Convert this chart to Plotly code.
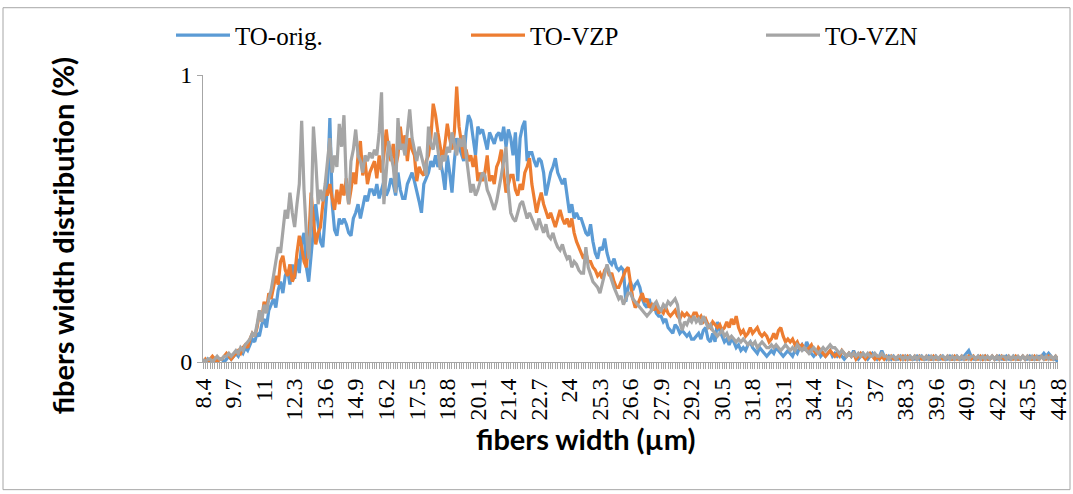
import plotly.graph_objects as go

# fibre width categories (µm), 8.4 .. 44.8 step 0.1
widths = [round(8.4 + 0.1 * i, 1) for i in range(365)]

tick_labels = ["8.4", "9.7", "11", "12.3", "13.6", "14.9", "16.2", "17.5", "18.8", "20.1",
               "21.4", "22.7", "24", "25.3", "26.6", "27.9", "29.2", "30.5", "31.8", "33.1",
               "34.4", "35.7", "37", "38.3", "39.6", "40.9", "42.2", "43.5", "44.8"]
tick_values = [8.4, 9.7, 11.0, 12.3, 13.6, 14.9, 16.2, 17.5, 18.8, 20.1,
               21.4, 22.7, 24.0, 25.3, 26.6, 27.9, 29.2, 30.5, 31.8, 33.1,
               34.4, 35.7, 37.0, 38.3, 39.6, 40.9, 42.2, 43.5, 44.8]

to_orig = [
    0, 0, 0.01, 0, 0, 0.01, 0, 0.01, 0.01, 0,
    0.01, 0.02, 0.01, 0.02, 0.03, 0.02, 0.04, 0.03, 0.05, 0.04,
    0.06, 0.08, 0.07, 0.1, 0.09, 0.13, 0.15, 0.12, 0.18, 0.2,
    0.22, 0.19, 0.25, 0.28, 0.24, 0.3, 0.32, 0.27, 0.34, 0.29,
    0.36, 0.31, 0.42, 0.45, 0.33, 0.28, 0.38, 0.46, 0.55, 0.48,
    0.42, 0.4, 0.5, 0.62, 0.85, 0.55, 0.46, 0.44, 0.5, 0.48,
    0.5, 0.48, 0.45, 0.44, 0.5, 0.52, 0.55, 0.5, 0.54, 0.58,
    0.56, 0.6, 0.6, 0.58, 0.62, 0.57, 0.6, 0.63, 0.58, 0.6,
    0.64, 0.62, 0.58, 0.66, 0.6, 0.57, 0.57, 0.62, 0.64, 0.66,
    0.63, 0.6, 0.56, 0.52, 0.62, 0.64, 0.66, 0.7, 0.68, 0.72,
    0.68, 0.7, 0.66, 0.6, 0.72, 0.66, 0.59, 0.7, 0.78, 0.75,
    0.72, 0.7, 0.8, 0.86, 0.84, 0.78, 0.72, 0.82, 0.8, 0.81,
    0.78, 0.74, 0.8, 0.78, 0.76, 0.79, 0.8, 0.77, 0.82, 0.75,
    0.81, 0.78, 0.72, 0.8, 0.63, 0.78, 0.82, 0.84, 0.7, 0.73,
    0.73, 0.7, 0.68, 0.71, 0.7, 0.66, 0.58, 0.62, 0.66, 0.68,
    0.71, 0.66, 0.64, 0.62, 0.64, 0.58, 0.52, 0.55, 0.5, 0.52,
    0.5, 0.5, 0.47, 0.45, 0.44, 0.48, 0.42, 0.38, 0.36, 0.4,
    0.39, 0.43, 0.38, 0.35, 0.34, 0.36, 0.33, 0.32, 0.33, 0.32,
    0.21, 0.26, 0.28, 0.25, 0.27, 0.28, 0.26, 0.22, 0.2, 0.19,
    0.22, 0.18, 0.2, 0.17, 0.16, 0.16, 0.14, 0.15, 0.12, 0.11,
    0.1, 0.13, 0.12, 0.1, 0.11, 0.1, 0.09, 0.1, 0.08, 0.08,
    0.09, 0.1, 0.08, 0.11, 0.12, 0.08, 0.07, 0.1, 0.07, 0.14,
    0.11, 0.09, 0.07, 0.08, 0.06, 0.08, 0.07, 0.05, 0.06, 0.04,
    0.05, 0.04, 0.06, 0.07, 0.05, 0.04, 0.03, 0.05, 0.04, 0.03,
    0.02, 0.03, 0.04, 0.03, 0.05, 0.04, 0.03, 0.02, 0.03, 0.04,
    0.03, 0.02, 0.04, 0.03, 0.05, 0.06, 0.04, 0.07, 0.05, 0.03,
    0.02, 0.03, 0.04, 0.02, 0.03, 0.02, 0.03, 0.04, 0.02, 0.03,
    0.02, 0.03, 0.02, 0.01, 0.02, 0.03, 0.02, 0.04, 0.02, 0.01,
    0.02, 0.03, 0.02, 0.01, 0.02, 0.03, 0.02, 0.01, 0.02, 0.04,
    0.02, 0.01, 0.02, 0.01, 0.02, 0.01, 0.01, 0.02, 0.01, 0.02,
    0.01, 0.02, 0.01, 0.01, 0.02, 0.01, 0.02, 0.01, 0.01, 0.02,
    0.01, 0.01, 0.02, 0.01, 0.01, 0.02, 0.01, 0.01, 0.02, 0.01,
    0.01, 0.02, 0.01, 0.01, 0.02, 0.03, 0.04, 0.02, 0.01, 0.01,
    0.02, 0.01, 0.01, 0.02, 0.01, 0.01, 0.02, 0.01, 0.01, 0.02,
    0.01, 0.01, 0.02, 0.01, 0.01, 0.02, 0.01, 0.01, 0.01, 0.02,
    0.01, 0.01, 0.02, 0.01, 0.01, 0.01, 0.02, 0.02, 0.03, 0.02,
    0.03, 0.02, 0.01, 0.01, 0.0,
]

to_vzp = [
    0, 0.01, 0, 0.01, 0.02, 0.01, 0, 0.01, 0.01, 0.02,
    0.03, 0.02, 0.01, 0.02, 0.03, 0.04, 0.03, 0.05, 0.06, 0.05,
    0.08, 0.1, 0.09, 0.12, 0.17, 0.15, 0.21, 0.18, 0.24, 0.22,
    0.26, 0.3, 0.27, 0.35, 0.37, 0.32, 0.3, 0.34, 0.28, 0.3,
    0.38, 0.44, 0.4, 0.35, 0.33, 0.42, 0.59, 0.5, 0.41, 0.45,
    0.47, 0.55, 0.6, 0.58, 0.62, 0.57, 0.53, 0.6, 0.55, 0.62,
    0.58, 0.64, 0.55, 0.6, 0.66, 0.62, 0.72, 0.77, 0.65, 0.7,
    0.62, 0.66, 0.68, 0.7, 0.64, 0.72, 0.66, 0.72, 0.81, 0.74,
    0.7, 0.76, 0.68, 0.72, 0.82, 0.75, 0.79, 0.7, 0.78, 0.74,
    0.72, 0.63, 0.68, 0.66, 0.65, 0.7, 0.72, 0.78, 0.9, 0.86,
    0.8, 0.74, 0.7, 0.76, 0.83, 0.78, 0.74, 0.8, 0.96, 0.82,
    0.76, 0.71, 0.74, 0.7, 0.72, 0.68, 0.72, 0.63, 0.66, 0.63,
    0.66, 0.72, 0.63, 0.65, 0.62, 0.68, 0.7, 0.74, 0.66, 0.59,
    0.62, 0.65, 0.65, 0.6, 0.58, 0.62, 0.6, 0.66, 0.68, 0.71,
    0.62, 0.56, 0.52, 0.56, 0.59, 0.55, 0.52, 0.5, 0.52, 0.49,
    0.47, 0.5, 0.53, 0.5, 0.48, 0.5, 0.47, 0.5, 0.45, 0.42,
    0.4, 0.38, 0.36, 0.38, 0.35, 0.35, 0.33, 0.32, 0.3, 0.31,
    0.29, 0.32, 0.33, 0.3, 0.31, 0.28, 0.26, 0.26, 0.28, 0.3,
    0.32, 0.33, 0.28, 0.22, 0.19, 0.2, 0.22, 0.24, 0.21, 0.22,
    0.19, 0.2, 0.18, 0.2, 0.17, 0.18, 0.17, 0.19, 0.17, 0.16,
    0.17, 0.18, 0.16, 0.15, 0.17, 0.16, 0.17, 0.16, 0.15, 0.17,
    0.17, 0.15, 0.16, 0.14, 0.15, 0.13, 0.12, 0.14, 0.13, 0.12,
    0.13, 0.11, 0.12, 0.14, 0.12, 0.15, 0.13, 0.16, 0.12, 0.1,
    0.11, 0.09, 0.1, 0.12, 0.1, 0.11, 0.12, 0.1, 0.09, 0.1,
    0.09, 0.07, 0.08, 0.1, 0.08, 0.11, 0.12, 0.09, 0.07, 0.08,
    0.07, 0.08, 0.06, 0.07, 0.05, 0.06, 0.05, 0.04, 0.05, 0.06,
    0.04, 0.03, 0.05, 0.04, 0.03, 0.02, 0.03, 0.04, 0.03, 0.02,
    0.03, 0.02, 0.04, 0.03, 0.02, 0.03, 0.02, 0.03, 0.01, 0.02,
    0.03, 0.02, 0.01, 0.02, 0.03, 0.02, 0.01, 0.02, 0.01, 0.02,
    0.01, 0.02, 0.01, 0.02, 0.01, 0.01, 0.02, 0.01, 0.02, 0.01,
    0.02, 0.01, 0.01, 0.02, 0.01, 0.02, 0.01, 0.01, 0.02, 0.01,
    0.01, 0.02, 0.01, 0.01, 0.02, 0.01, 0.01, 0.02, 0.01, 0.01,
    0.02, 0.01, 0.01, 0.02, 0.01, 0.01, 0.02, 0.01, 0.02, 0.01,
    0.01, 0.02, 0.01, 0.02, 0.01, 0.01, 0.02, 0.01, 0.02, 0.01,
    0.02, 0.01, 0.01, 0.02, 0.01, 0.01, 0.02, 0.01, 0.01, 0.02,
    0.01, 0.02, 0.01, 0.01, 0.02, 0.01, 0.01, 0.02, 0.01, 0.01,
    0.02, 0.01, 0.01, 0.02, 0.01,
]

to_vzn = [
    0.01, 0, 0.01, 0.01, 0, 0.01, 0.02, 0.01, 0.01, 0.02,
    0.02, 0.03, 0.02, 0.03, 0.04, 0.03, 0.05, 0.04, 0.06, 0.07,
    0.08, 0.1, 0.09, 0.13, 0.18, 0.14, 0.2, 0.17, 0.22, 0.25,
    0.3, 0.34, 0.4, 0.38, 0.46, 0.53, 0.5, 0.59, 0.52, 0.47,
    0.55, 0.62, 0.84, 0.6, 0.45, 0.36, 0.5, 0.82, 0.7, 0.55,
    0.6, 0.56, 0.62, 0.7, 0.78, 0.66, 0.72, 0.68, 0.83, 0.75,
    0.86, 0.62, 0.55, 0.7, 0.74, 0.81, 0.72, 0.7, 0.66, 0.72,
    0.7, 0.73, 0.71, 0.74, 0.72, 0.8, 0.94, 0.55, 0.68, 0.77,
    0.72, 0.68, 0.59, 0.85, 0.74, 0.76, 0.72, 0.8, 0.88, 0.78,
    0.74, 0.7, 0.75, 0.72, 0.68, 0.65, 0.82, 0.76, 0.74, 0.8,
    0.74, 0.67, 0.72, 0.7, 0.75, 0.73, 0.8, 0.76, 0.72, 0.78,
    0.75, 0.79, 0.72, 0.66, 0.59, 0.62, 0.58, 0.6, 0.63, 0.66,
    0.65, 0.6, 0.58, 0.55, 0.53, 0.56, 0.6, 0.65, 0.7, 0.75,
    0.6, 0.52, 0.5, 0.49, 0.52, 0.55, 0.56, 0.53, 0.5, 0.52,
    0.5, 0.48, 0.46, 0.5, 0.47, 0.45, 0.48, 0.44, 0.43, 0.45,
    0.42, 0.4, 0.39, 0.41, 0.38, 0.36, 0.37, 0.33, 0.35, 0.34,
    0.32, 0.31, 0.31, 0.4, 0.33, 0.3, 0.28, 0.27, 0.26, 0.24,
    0.27, 0.3, 0.34, 0.31, 0.28, 0.26, 0.24, 0.22, 0.23, 0.2,
    0.22, 0.24, 0.24, 0.22, 0.21, 0.2, 0.19, 0.18, 0.17, 0.16,
    0.17, 0.18, 0.2, 0.21, 0.19, 0.18, 0.2, 0.19, 0.21, 0.2,
    0.21, 0.22, 0.2, 0.14, 0.11, 0.14, 0.13, 0.15, 0.14, 0.16,
    0.14, 0.15, 0.13, 0.16, 0.14, 0.12, 0.13, 0.11, 0.1, 0.09,
    0.1, 0.11, 0.09, 0.1, 0.08, 0.09, 0.08, 0.07, 0.08, 0.07,
    0.08, 0.07, 0.06, 0.07, 0.06, 0.07, 0.05, 0.06, 0.07, 0.06,
    0.05, 0.05, 0.06, 0.05, 0.06, 0.05, 0.04, 0.05, 0.06, 0.05,
    0.04, 0.05, 0.04, 0.06, 0.05, 0.04, 0.05, 0.04, 0.03, 0.04,
    0.05, 0.04, 0.03, 0.04, 0.05, 0.04, 0.05, 0.06, 0.05, 0.05,
    0.04, 0.03, 0.04, 0.03, 0.02, 0.03, 0.02, 0.03, 0.02, 0.03,
    0.02, 0.03, 0.02, 0.03, 0.02, 0.02, 0.03, 0.02, 0.02, 0.03,
    0.02, 0.02, 0.01, 0.02, 0.02, 0.01, 0.02, 0.02, 0.01, 0.02,
    0.01, 0.02, 0.01, 0.02, 0.01, 0.02, 0.02, 0.01, 0.02, 0.01,
    0.02, 0.01, 0.02, 0.01, 0.02, 0.02, 0.01, 0.02, 0.01, 0.02,
    0.01, 0.02, 0.01, 0.02, 0.01, 0.02, 0.01, 0.02, 0.02, 0.01,
    0.02, 0.01, 0.02, 0.01, 0.02, 0.01, 0.02, 0.01, 0.02, 0.01,
    0.02, 0.02, 0.01, 0.02, 0.01, 0.02, 0.01, 0.02, 0.01, 0.02,
    0.01, 0.02, 0.01, 0.02, 0.01, 0.02, 0.01, 0.02, 0.01, 0.02,
    0.01, 0.02, 0.01, 0.02, 0.01,
]

assert len(to_orig) == len(widths), len(to_orig)
assert len(to_vzp) == len(widths), len(to_vzp)
assert len(to_vzn) == len(widths), len(to_vzn)

series = [
    ("TO-orig.", to_orig, "#5B9BD5"),
    ("TO-VZP", to_vzp, "#ED7D31"),
    ("TO-VZN", to_vzn, "#A5A5A5"),
]

fig = go.Figure()
for name, vals, color in series:
    fig.add_trace(go.Scatter(x=widths, y=vals, mode="lines", name=name,
                             line=dict(color=color, width=3.2)))

W, H = 1073, 494
L, R, T, B = 203, 15, 72, 132
pw, ph = W - L - R, H - T - B

def px_x(p):
    return (p - L) / pw

def px_y(p):
    return (H - B - p) / ph

serif = "Liberation Serif, Times New Roman, serif"
sans_b = "Lato, Open Sans, DejaVu Sans, sans-serif"

fig.update_layout(
    width=W, height=H,
    margin=dict(l=L, r=R, t=T, b=B),
    paper_bgcolor="white", plot_bgcolor="white",
    showlegend=True,
    legend=dict(orientation="h", x=px_x(171), y=px_y(32), yanchor="middle", xanchor="left",
                font=dict(family=serif, size=25, color="black"),
                itemwidth=54, entrywidth=226, entrywidthmode="pixels",
                bgcolor="rgba(0,0,0,0)", tracegroupgap=0),
    xaxis=dict(
        range=[8.399, 44.801], tickmode="array", tickvals=tick_values, ticktext=tick_labels,
        tickangle=-90, tickfont=dict(family=serif, size=24, color="black"),
        ticklabeloverflow="allow",
        ticks="outside", ticklen=6, tickcolor="#a6a6a6", tickwidth=1,
        minor=dict(ticks="outside", ticklen=6, tick0=8.4, dtick=0.1, tickcolor="#a6a6a6", tickwidth=1, showgrid=False),
        showline=True, linecolor="#a6a6a6", linewidth=1, showgrid=False, zeroline=False,
        automargin=False,
    ),
    yaxis=dict(
        range=[0, 1], tickmode="array", tickvals=[0, 1], ticktext=["0", "1"],
        tickfont=dict(family=serif, size=24, color="black"),
        ticks="outside", ticklen=5, tickcolor="#a6a6a6",
        showline=True, linecolor="#a6a6a6", linewidth=1,
        showgrid=True, gridcolor="#b4b4b4", gridwidth=1, zeroline=False,
        automargin=False,
    ),
    annotations=[
        dict(text="<b>fibers width (µm)</b>", xref="paper", yref="paper",
             x=px_x(585), y=px_y(439), xanchor="center", yanchor="middle", showarrow=False,
             font=dict(family=sans_b, size=29, color="black")),
        dict(text="<b>fibers width distribution (%)</b>", xref="paper", yref="paper",
             x=px_x(62), y=px_y(235), xanchor="center", yanchor="middle", showarrow=False,
             textangle=-90, font=dict(family=sans_b, size=29, color="black")),
    ],
    shapes=[
        dict(type="rect", xref="paper", yref="paper",
             x0=px_x(3), x1=px_x(1070), y0=px_y(491), y1=px_y(4),
             line=dict(color="#a6a6a6", width=1), fillcolor="rgba(0,0,0,0)", layer="below"),
    ],
)

fig.write_html("out.html")
